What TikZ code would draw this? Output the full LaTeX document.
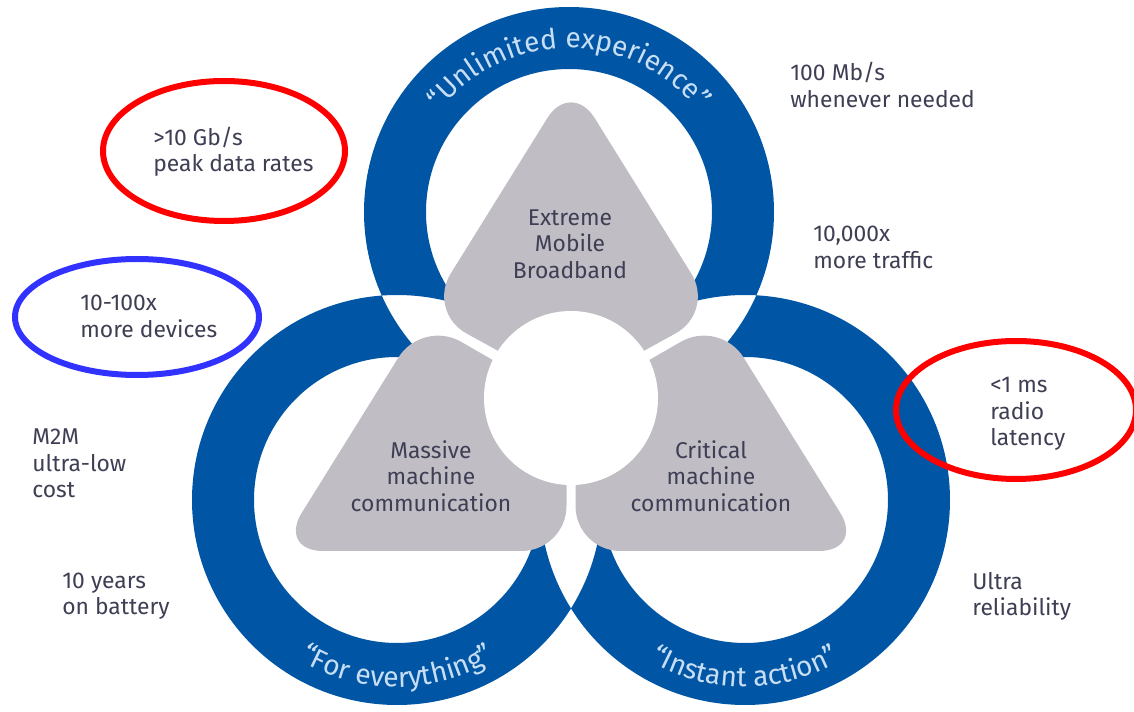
\documentclass[tikz,border=0pt]{standalone}
\usepackage{fontspec}
\setmainfont{Fira Sans}
\usetikzlibrary{decorations.text}

\definecolor{ringblue}{RGB}{0,86,164}
\definecolor{piecegrey}{RGB}{192,190,196}
\definecolor{labeltext}{RGB}{62,62,84}
\definecolor{ringtext}{RGB}{200,222,244}
\definecolor{markred}{RGB}{255,0,0}
\definecolor{markblue}{RGB}{50,50,255}
\newcommand\ringfont{\fontsize{16}{16}\selectfont}

\begin{document}
\begin{tikzpicture}[x=0.02cm, y=0.02cm,
    lbl/.style={align=left, anchor=west, inner sep=0, text=labeltext, font=\fontsize{13}{15}\selectfont},
    piecelbl/.style={align=center, inner sep=0, text=labeltext, font=\fontsize{13}{15}\selectfont},
    hilite/.style={line width=0.12cm},
    ringlbl/.style={decorate, decoration={text along path, text align=center}}]
    \useasboundingbox (0,0) rectangle (1134,711);
    \clip (0,0) rectangle (1134,711);

    \coordinate (T) at (569,499);
    \coordinate (L) at (397,211);
    \coordinate (R) at (745,211);
    \fill[ringblue, even odd rule]
    (T) circle (205) (T) circle (143)
    (L) circle (205) (L) circle (143)
    (R) circle (205) (R) circle (143);

    \fill[piecegrey] (571,320) [rounded corners=0.9cm] -- (427,399.3) -- (571,631) -- (715,399.3) -- cycle;
    \fill[piecegrey] (566.5,308.4) [rounded corners=0.9cm] -- (422.2,391.7) -- (278,160) -- (566.5,160) [rounded corners=0.2cm] -- cycle;
    \fill[piecegrey] (575.5,308.4) [rounded corners=0.9cm] -- (719.8,391.7) -- (864,160) -- (575.5,160) [rounded corners=0.2cm] -- cycle;
    \fill[white] (571,313) circle (87);

    \node[piecelbl] (emb) at (570,467) {Extreme\\Mobile\\Broadband};
    \node[piecelbl] (mmc) at (431,235) {Massive\\machine\\communication};
    \node[piecelbl] (cmc) at (711,235) {Critical\\machine\\communication};

    \path[ringlbl, decoration={text={|\ringfont\color{ringtext}|“Unlimited experience”}}, shift={(T)}] (150:164) arc (150:30:164);
    \path[ringlbl, decoration={text={|\ringfont\color{ringtext}|“For everything”}}, shift={(L)}] (225:187) arc (225:315:187);
    \path[ringlbl, decoration={text={|\ringfont\color{ringtext}|“Instant action”}}, shift={(R)}] (225:187) arc (225:315:187);

    \node[lbl] (peak) at (153,559.5) {>10 Gb/s\\peak data rates};
    \node[lbl] (dev) at (80,394.5) {10-100x\\more devices};
    \node[lbl] (mbps) at (790,626) {100 Mb/s\\whenever needed};
    \node[lbl] (traf) at (813,463.5) {10,000x\\more traffic};
    \node[lbl] (lat) at (990,297) {<1 ms\\radio\\latency};
    \node[lbl] (cost) at (32,247.5) {M2M\\ultra-low\\cost};
    \node[lbl] (batt) at (62,114.5) {10 years\\on battery};
    \node[lbl] (rel) at (972,114.5) {Ultra\\reliability};

    \draw[hilite, markred] (224,560) ellipse (121 and 70);
    \draw[hilite, markblue] (137,394) ellipse (122 and 58);
    \draw[hilite, markred] (1016,301) ellipse (120 and 69);
\end{tikzpicture}
\end{document}
